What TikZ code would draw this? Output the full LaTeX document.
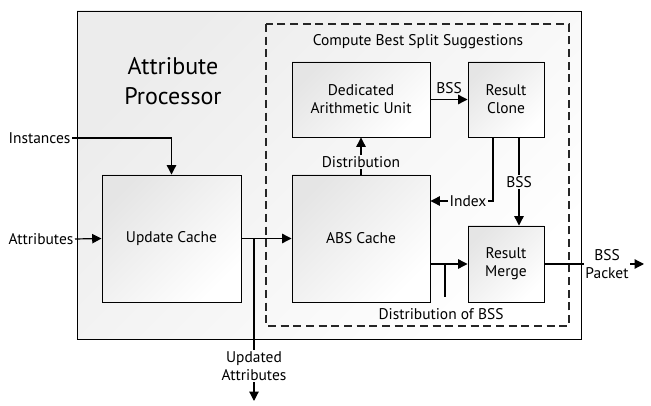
\documentclass[tikz,border=0pt]{standalone}
\usepackage{fontspec}
\setmainfont{PT Sans}
\usetikzlibrary{arrows.meta}
\tikzset{
  unitbox/.style={draw, line width=0.7pt, top color=gray!20, bottom color=white,
    shading angle=45, align=center, inner sep=0pt},
  lbl/.style={inner sep=1pt, align=center},
  flow/.style={line width=0.9pt},
  arr/.style={flow, -{Triangle[length=7pt,width=7pt]}},
}
\begin{document}
\begin{tikzpicture}[x=0.75pt, y=-0.75pt, font=\fontsize{11.6}{13.5}\selectfont]
  \useasboundingbox (0,0) rectangle (651,406);

  % processor frame and compute region
  \draw[line width=0.7pt, top color=gray!15, bottom color=white, shading angle=45]
    (77,11) rectangle (581,339);
  \draw[line width=0.8pt, dash pattern=on 6pt off 3.5pt, black!85]
    (266,24) rectangle (569,326);

  \node[font=\fontsize{18}{23}\selectfont, align=center] (title) at (173,81) {Attribute\\Processor};
  \node (cbss) at (418,42) {Compute Best Split Suggestions};

  % units
  \node[unitbox, minimum width=104.25pt, minimum height=95.25pt] (uc)    at (171.5,238.5) {Update Cache};
  \node[unitbox, minimum width=103.5pt,  minimum height=95.25pt] (abs)   at (361,238.5)   {ABS Cache};
  \node[unitbox, minimum width=103.5pt,  minimum height=56.25pt] (dau)   at (361,99.5)    {Dedicated\\Arithmetic Unit};
  \node[unitbox, minimum width=57pt,     minimum height=56.25pt] (clone) at (506,99.5)    {Result\\Clone};
  \node[unitbox, minimum width=57pt,     minimum height=57pt]    (merge) at (506,264)     {Result\\Merge};

  % labels
  \node[lbl, anchor=east] (inst) at (72,138) {Instances};
  \node[lbl, anchor=east] (attr) at (75,239) {Attributes};
  \node[lbl] (dist)  at (361,162) {Distribution};
  \node[lbl] (bss1)  at (449,88)  {BSS};
  \node[lbl] (idx)   at (468,201) {Index};
  \node[lbl] (bss2)  at (519,182) {BSS};
  \node[lbl] (dob)   at (441,314) {Distribution of BSS};
  \node[lbl] (upd)   at (254,366) {Updated\\Attributes};
  \node[lbl] (pkt)   at (607,264) {BSS\\Packet};

  \coordinate (split) at (254,239);
  \coordinate (tick)  at (445,264);
  \coordinate (updend) at (254,401);
  \coordinate (pktend) at (644,264);

  % connectors
  \draw[arr] (inst.east) -| (uc.north);
  \draw[arr] (attr.east) -- (uc.west);
  \draw[arr] (uc.east) -- (abs.west);
  \draw[flow] (split) -- (upd.north);
  \draw[arr] (upd.south) -- (updend);
  \draw[flow] (abs.north) -- (dist.south);
  \draw[arr] (dist.north) -- (dau.south);
  \draw[arr] (dau.east |- clone) -- (clone.west);
  \draw[flow] ([xshift=-9.75pt]clone.south) |- (idx.east);
  \draw[arr] (idx.west) -- (abs.east |- idx);
  \draw[flow] ([xshift=9.75pt]clone.south) -- (bss2.north);
  \draw[arr] (bss2.south) -- ([xshift=9.75pt]merge.north);
  \draw[arr] (abs.east |- merge) -- (merge.west);
  \draw[flow] (tick) -- ++(0,33);
  \draw[flow] (merge.east) -- (pkt.west);
  \draw[arr] (pkt.east) -- (pktend);
\end{tikzpicture}
\end{document}
